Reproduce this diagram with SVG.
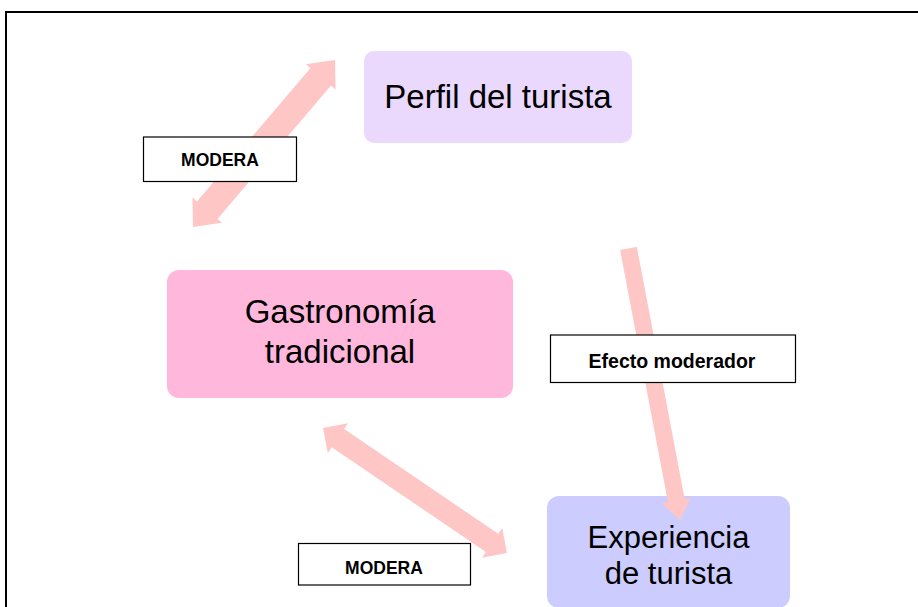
<svg xmlns="http://www.w3.org/2000/svg" width="918" height="607" viewBox="0 0 918 607">
<style>
.big{font-family:"Liberation Sans",Arial,sans-serif;font-size:33px;fill:#000;text-anchor:middle}
.lbl{font-family:"Liberation Sans",Arial,sans-serif;font-weight:bold;font-size:17.5px;fill:#000;text-anchor:middle}
.lblbox{fill:#fff;stroke:#000;stroke-width:1.2}
.arr{fill:#ffc6c6}
</style>
<rect width="918" height="607" fill="#fff"/>
<path d="M6,620 V12 H930" fill="none" stroke="#000" stroke-width="2"/>
<g id="perfil">
<rect x="364" y="51" width="268" height="92" rx="10" fill="#ead9fd"/>
<text class="big" x="498" y="108">Perfil del turista</text>
</g>
<g id="gastronomia">
<rect x="167" y="270" width="346" height="128" rx="12" fill="#ffb7dc"/>
<text class="big" x="340" y="323">Gastronomía</text>
<text class="big" x="340" y="363">tradicional</text>
</g>
<g id="experiencia">
<rect x="547" y="496" width="243" height="112" rx="12" fill="#ccccff"/>
<text class="big" x="668.5" y="548" style="font-size:31px">Experiencia</text>
<text class="big" x="668.5" y="584" style="font-size:31px">de turista</text>
</g>
<g id="connectors">
<polygon class="arr" transform="translate(193,227) rotate(-49.62)" points="0,0 22,-19.5 22,-13.5 197.2,-13.5 197.2,-19.5 219.2,0 197.2,19.5 197.2,13.5 22,13.5 22,19.5"/>
<polygon class="arr" transform="translate(323,428) rotate(34.19)" points="0,0 18,-18 18,-11 204.4,-11 204.4,-18 222.4,0 204.4,18 204.4,11 18,11 18,18"/>
<polygon class="arr" transform="translate(628.5,248.5) rotate(79.26)" points="0,-8.5 256.3,-8.5 256.3,-15 276.3,0 256.3,15 256.3,8.5 0,8.5"/>
</g>
<g id="label-modera-1">
<rect class="lblbox" x="143.5" y="137" width="153" height="44.5"/>
<text class="lbl" x="220" y="165.5">MODERA</text>
</g>
<g id="label-efecto">
<rect class="lblbox" x="550.5" y="335" width="245" height="47.5"/>
<text class="lbl" x="672" y="367.5" style="font-size:19.5px">Efecto moderador</text>
</g>
<g id="label-modera-2">
<rect class="lblbox" x="298.5" y="543.5" width="172" height="41.5"/>
<text class="lbl" x="384" y="574">MODERA</text>
</g>
</svg>
